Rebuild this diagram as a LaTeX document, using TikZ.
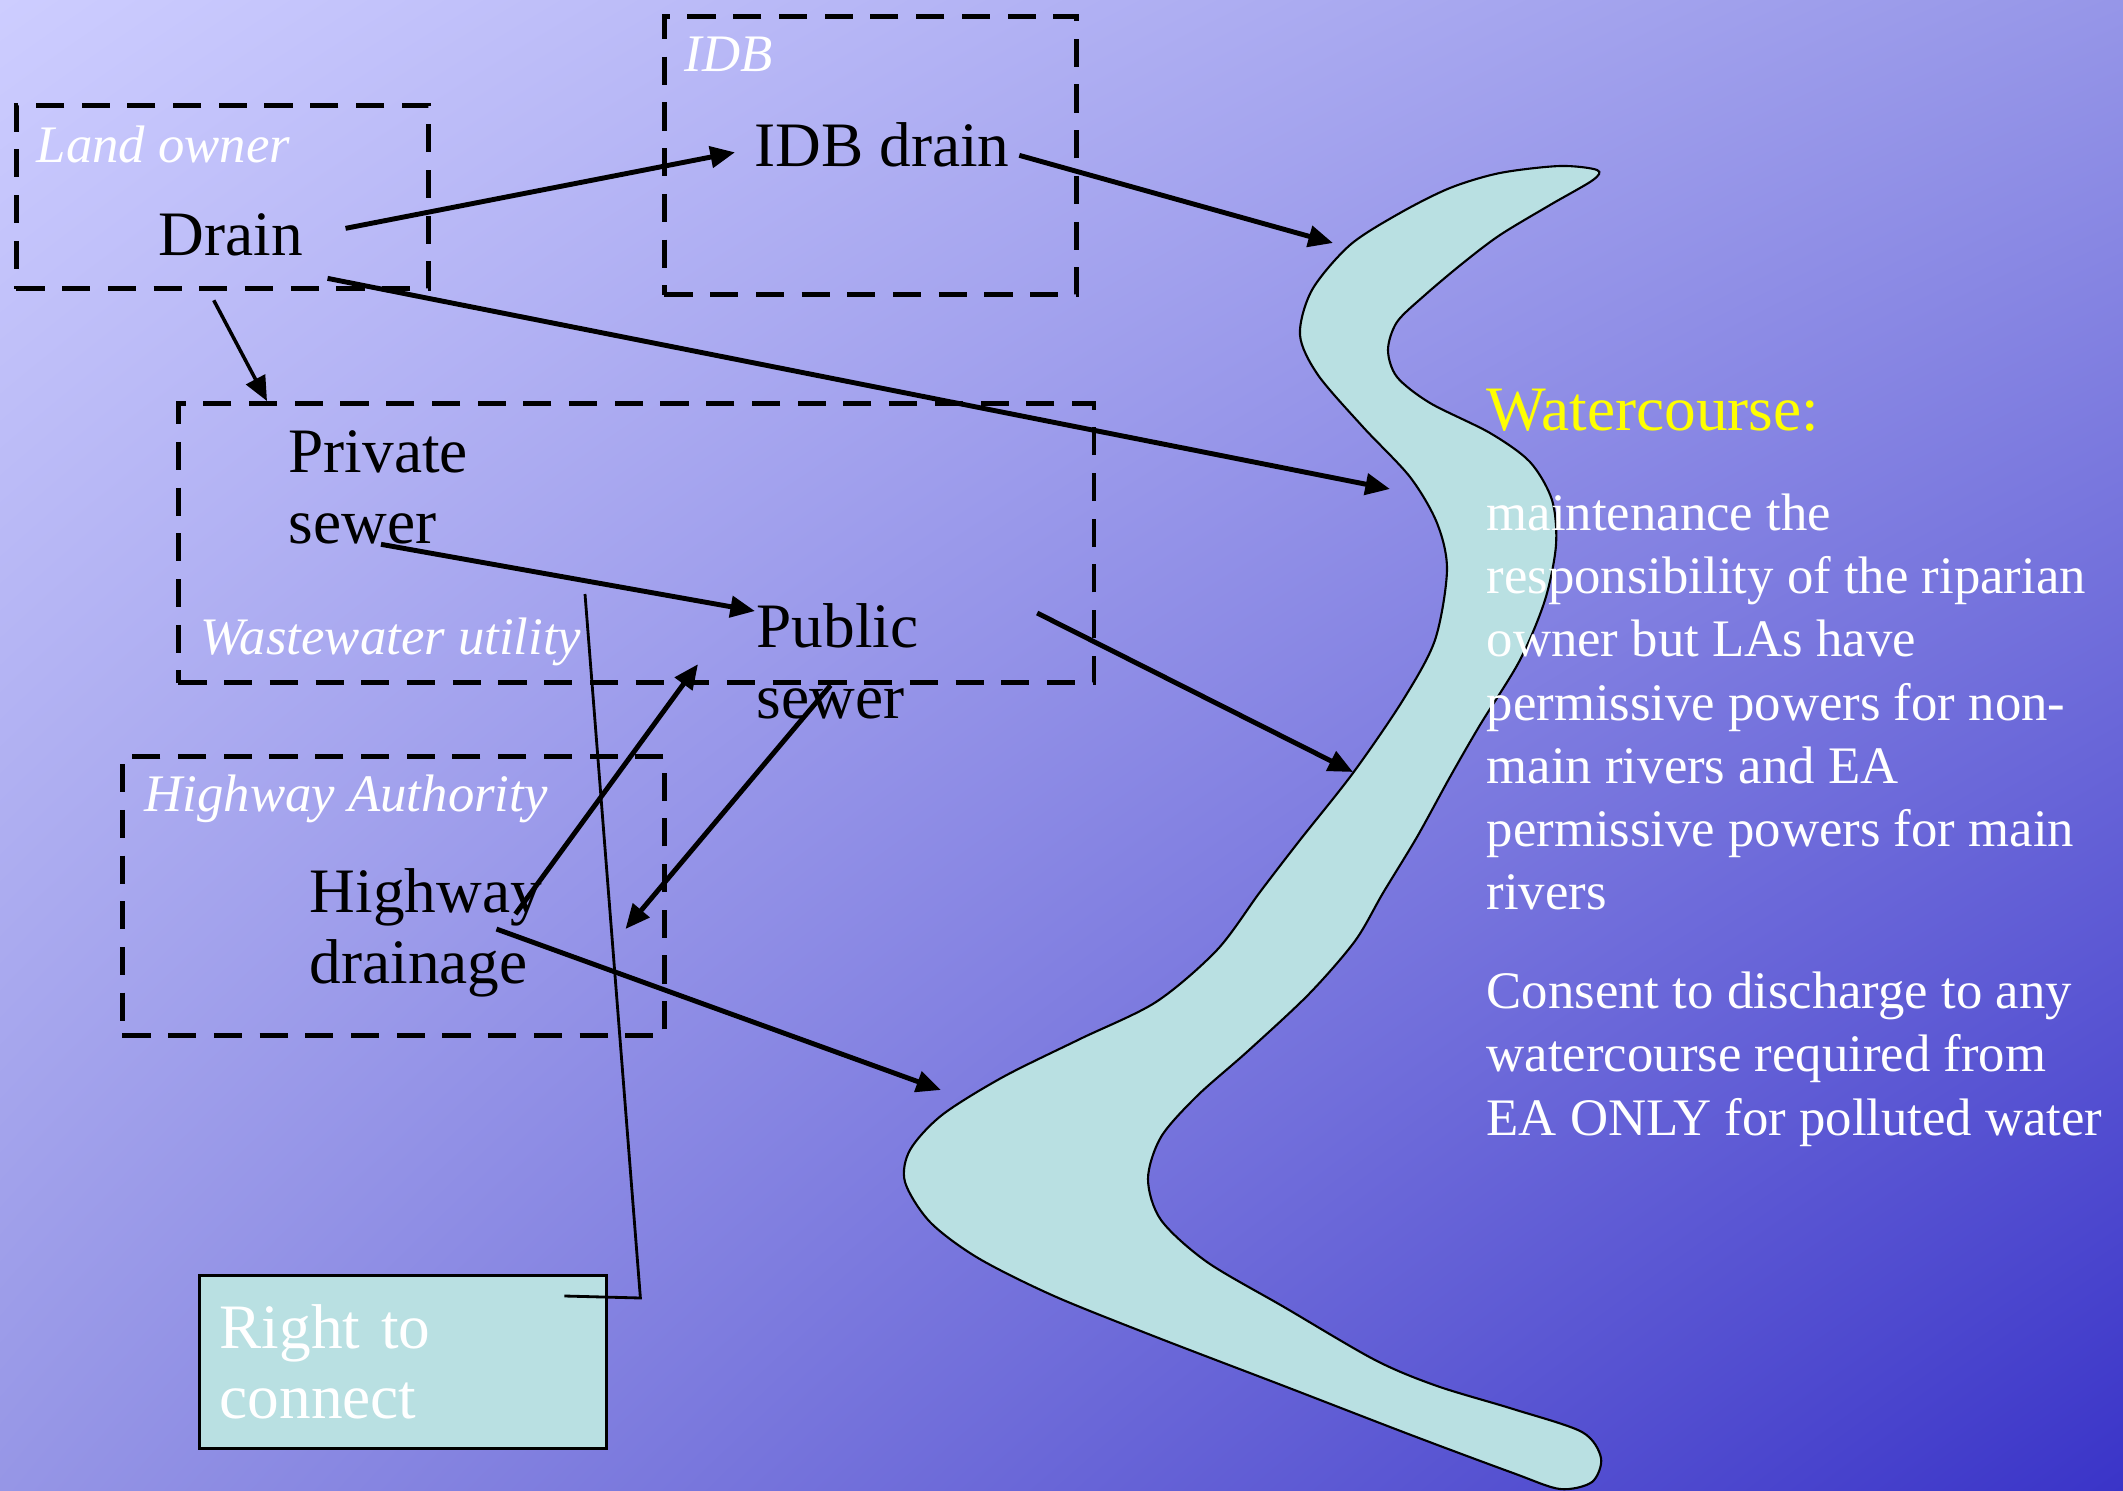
\documentclass[tikz,border=0pt]{standalone}
\usepackage{fontspec}
\setmainfont{Liberation Serif}
\usetikzlibrary{arrows.meta,shadings}
\definecolor{bgtl}{RGB}{205,205,255}
\definecolor{bgtr}{RGB}{150,150,232}
\definecolor{bgbl}{RGB}{150,150,230}
\definecolor{bgbr}{RGB}{58,52,200}
\definecolor{riverfill}{RGB}{185,224,226}
\definecolor{wcyellow}{RGB}{255,255,0}

\begin{document}
\begin{tikzpicture}[x=0.01cm,y=-0.01cm,>={Triangle[length=7pt,width=6pt]},
  grouplabel/.style={font=\fontsize{15}{18}\selectfont\itshape,text=white,anchor=base west,inner sep=0pt},
  itemlabel/.style={font=\fontsize{18}{20}\selectfont,align=left,anchor=base west,inner sep=0pt},
  groupbox/.style={draw,line width=1.4pt,dash pattern=on 8pt off 5pt,anchor=north west,inner sep=0pt},
  connectbox/.style={draw,line width=0.9pt,fill=riverfill,text=white,font=\fontsize{18}{20}\selectfont,
    minimum width=4.07cm,minimum height=1.73cm,text width=3.67cm,inner xsep=0.2cm,align=left,anchor=north west},
  notetext/.style={font=\fontsize{15}{18}\selectfont,text=white,align=left,anchor=base west,inner sep=0pt},
  flow/.style={->,line width=1.4pt},
  link/.style={line width=0.8pt},
  river/.style={draw,line width=0.6pt,fill=riverfill}]
\useasboundingbox (0,0) rectangle (2123,1491);
\shade[upper left=bgtl,upper right=bgtr,lower left=bgbl,lower right=bgbr] (0,0) rectangle (2123,1491);

% the watercourse
\draw[river] plot[smooth cycle,tension=0.5] coordinates {
  (1597,170) (1560,166) (1500,173) (1450,188) (1400,213) (1350,245) (1312,290) (1300,335)
  (1318,375) (1363,427) (1410,477) (1437,523) (1447,570) (1435,640) (1403,700) (1353,773)
  (1300,840) (1260,892) (1217,950) (1156,1002) (1080,1039) (1003,1077) (942,1115) (910,1150)
  (905,1182) (930,1222) (978,1258) (1054,1296) (1156,1337) (1284,1386) (1411,1435) (1513,1473)
  (1560,1489) (1592,1482) (1601,1458) (1582,1432) (1513,1409) (1437,1386) (1375,1360) (1284,1307)
  (1207,1262) (1161,1220) (1148,1179) (1161,1137) (1197,1096) (1248,1051) (1309,994) (1355,941)
  (1383,893) (1417,837) (1450,777) (1480,725) (1520,660) (1545,600) (1556,545) (1552,500)
  (1530,462) (1490,433) (1430,403) (1397,377) (1388,350) (1397,322) (1425,295) (1463,263)
  (1500,235) (1550,205) (1593,180)};
\coordinate (rivera) at (1333,243);
\coordinate (riverb) at (1390,489);
\coordinate (riverc) at (1353,772);
\coordinate (riverd) at (941,1090);

% dashed groups
\node[groupbox,minimum width=4.12cm,minimum height=1.83cm] (landbox) at (14,103) {};
\node[groupbox,minimum width=4.12cm,minimum height=2.78cm] (idbbox) at (662,14) {};
\node[groupbox,minimum width=9.15cm,minimum height=2.79cm] (wwbox) at (176,401) {};
\node[groupbox,minimum width=5.42cm,minimum height=2.79cm] (hwbox) at (120,754) {};

\node[grouplabel] (landowner) at (36,163) {Land owner};
\node[grouplabel] (idb) at (684,72) {IDB};
\node[grouplabel] (wwutility) at (200,654) {Wastewater utility};
\node[grouplabel] (hwauthority) at (144,811) {Highway Authority};

% multi-line labels sit on their last baseline
\node[itemlabel] (drain) at (158,255) {Drain};
\node[itemlabel] (idbdrain) at (754,167) {IDB drain};
\node[itemlabel] (private) at (288,543) {Private\\sewer};
\node[itemlabel] (public) at (756,718) {Public\\sewer};
\node[itemlabel] (highway) at (309,983) {Highway\\drainage};

\node[connectbox] (connect) at (198,1274) {Right to\\connect};
\coordinate (linkend) at (585,594);
\draw[link] ([shift={(-44,22)}]connect.north east) -- ++(76,2) -- (linkend);

\node[font=\fontsize{18}{20}\selectfont,text=wcyellow,anchor=base west,inner sep=0pt] (wctitle) at (1486,431) {Watercourse:};
\node[notetext] (wcnote) at (1486,1135) {maintenance the\\responsibility of the riparian\\owner but LAs have\\permissive powers for non-\\main rivers and EA\\permissive powers for main\\rivers\\[10pt]Consent to discharge to any\\watercourse required from\\EA ONLY for polluted water};

\draw[flow] ([shift={(42,-6)}]drain.east) -- ([shift={(-19,7)}]idbdrain.west);
\draw[flow] ([shift={(24,44)}]drain.east) -- (riverb);
\draw[flow,line width=1pt] ([shift={(-17,44)}]drain.south) -- ([shift={(-21,-29)}]private.north west);
\draw[flow] ([shift={(9,10)}]idbdrain.east) -- (rivera);
\draw[flow] ([shift={(93,0)}]private.south west) -- ([shift={(-1,8)}]public.north west);
\draw[flow] ([shift={(118,10)}]public.north east) -- (riverc);
\draw[flow] ([shift={(-27,46)}]highway.north east) -- ([shift={(-58,3)}]public.west);
\draw[flow] ([shift={(-7,-34)}]public.south) -- ([shift={(83,61)}]highway.north east);
\draw[flow] ([shift={(-46,61)}]highway.north east) -- (riverd);
\end{tikzpicture}
\end{document}
